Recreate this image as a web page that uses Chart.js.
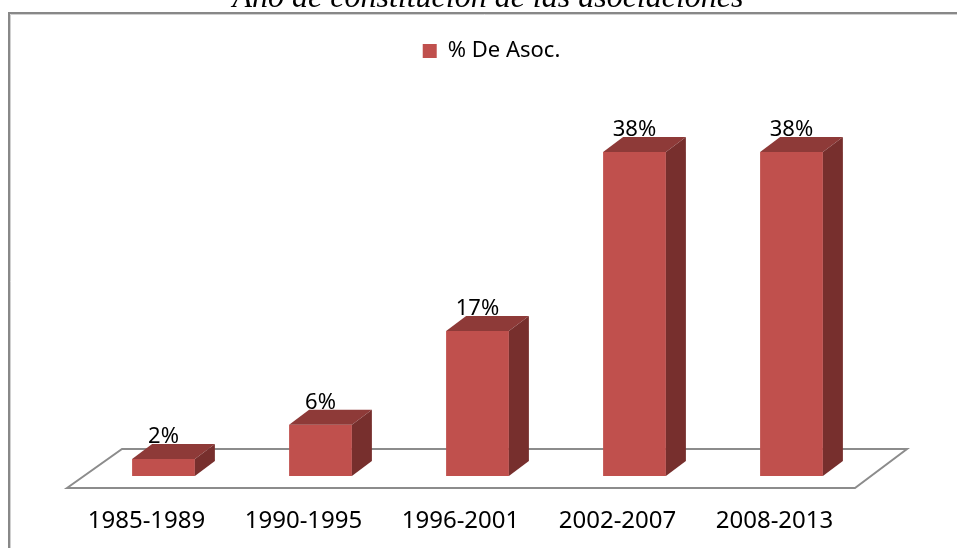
<!DOCTYPE html>
<html>
<head>
<meta charset="utf-8">
<script src="https://cdn.jsdelivr.net/npm/chart.js@4.4.0/dist/chart.umd.min.js"></script>
<style>
  html, body { margin: 0; padding: 0; background: #fff; }
  #wrap { width: 957px; height: 548px; position: relative; }
</style>
</head>
<body>
<div id="wrap"><canvas id="chart" width="957" height="548"></canvas></div>
<script>
// chart data
const title = 'Año de constitución de las asociaciones';
const categories = ['1985-1989', '1990-1995', '1996-2001', '2002-2007', '2008-2013'];
const seriesName = '% De Asoc.';
const percentValues = [2, 6, 17, 38, 38];

const FONT = '"Noto Sans", "Open Sans", sans-serif';
const FRONT = '#C0504D';
const TOP = '#8E3A38';
const SIDE = '#772F2D';
const DEPTH_X = 20, DEPTH_Y = 15;

// frame, cropped title and the 3D floor, drawn before the bars
const backdrop = {
    id: 'backdrop',
    beforeDraw(chart) {
        const ctx = chart.ctx;
        ctx.save();
        ctx.strokeStyle = '#888888';
        ctx.lineWidth = 2;
        ctx.beginPath();
        ctx.moveTo(9, 548); ctx.lineTo(9, 13); ctx.lineTo(960, 13);
        ctx.stroke();
        ctx.strokeStyle = '#d0d0d0';
        ctx.lineWidth = 1;
        ctx.beginPath();
        ctx.moveTo(10.5, 548); ctx.lineTo(10.5, 14.5); ctx.lineTo(960, 14.5);
        ctx.stroke();

        ctx.fillStyle = '#000';
        ctx.font = 'italic 32px "Liberation Serif", "DejaVu Serif", serif';
        ctx.textAlign = 'center';
        ctx.textBaseline = 'alphabetic';
        ctx.fillText(title, 488, 7);
        ctx.restore();
    },
    beforeDatasetsDraw(chart) {
        const ctx = chart.ctx;
        const a = chart.chartArea;
        const base = chart.scales.y.getPixelForValue(0);
        ctx.save();
        ctx.strokeStyle = '#8c8c8c';
        ctx.lineWidth = 2;
        ctx.fillStyle = '#fff';
        ctx.beginPath();
        ctx.moveTo(a.left - 18, base + 12);
        ctx.lineTo(a.left + 37, base - 27);
        ctx.lineTo(a.right + 37, base - 27);
        ctx.lineTo(a.right - 15, base + 12);
        ctx.closePath();
        ctx.fill();
        ctx.stroke();
        ctx.restore();
    }
};

// top and side faces of each bar, value labels and category labels
const bars3d = {
    id: 'bars3d',
    afterDatasetsDraw(chart) {
        const ctx = chart.ctx;
        const meta = chart.getDatasetMeta(0);
        ctx.save();
        meta.data.forEach((bar, i) => {
            const l = bar.x - bar.width / 2, r = bar.x + bar.width / 2;
            const t = bar.y, b = bar.base;
            ctx.fillStyle = TOP;
            ctx.beginPath();
            ctx.moveTo(l, t); ctx.lineTo(l + DEPTH_X, t - DEPTH_Y);
            ctx.lineTo(r + DEPTH_X, t - DEPTH_Y); ctx.lineTo(r, t);
            ctx.closePath(); ctx.fill();
            ctx.fillStyle = SIDE;
            ctx.beginPath();
            ctx.moveTo(r, t); ctx.lineTo(r + DEPTH_X, t - DEPTH_Y);
            ctx.lineTo(r + DEPTH_X, b - DEPTH_Y); ctx.lineTo(r, b);
            ctx.closePath(); ctx.fill();

            ctx.fillStyle = '#000';
            ctx.font = '22px ' + FONT;
            ctx.textAlign = 'center';
            ctx.textBaseline = 'alphabetic';
            ctx.fillText(percentValues[i] + '%', bar.x, t - DEPTH_Y - 1);
        });
        const xs = chart.scales.x;
        ctx.font = '24px ' + FONT;
        ctx.fillStyle = '#000';
        ctx.textAlign = 'center';
        categories.forEach((c, i) => {
            ctx.fillText(c, xs.getPixelForValue(i) - 17, 528);
        });
        ctx.restore();
    }
};

// nudge legend right like the original
const legendShift = {
    id: 'legendShift',
    afterLayout(chart) {
        if (chart.legend) {
            chart.legend.left += 14;
            chart.legend.right += 14;
        }
    }
};

new Chart(document.getElementById('chart'), {
    type: 'bar',
    data: {
        labels: categories,
        datasets: [{
            label: seriesName,
            data: percentValues,
            backgroundColor: FRONT,
            borderWidth: 0,
            barPercentage: 0.4,
            categoryPercentage: 1
        }]
    },
    options: {
        responsive: false,
        animation: false,
        layout: { padding: { left: 85, right: 87, top: 30, bottom: 72 } },
        plugins: {
            legend: {
                display: true,
                position: 'top',
                labels: {
                    boxWidth: 14,
                    boxHeight: 14,
                    color: '#000',
                    font: { size: 22, family: FONT }
                }
            },
            tooltip: { enabled: false }
        },
        scales: {
            x: { display: false },
            y: { display: false, min: 0, max: 47.4 }
        }
    },
    plugins: [backdrop, bars3d, legendShift]
});
</script>
</body>
</html>
